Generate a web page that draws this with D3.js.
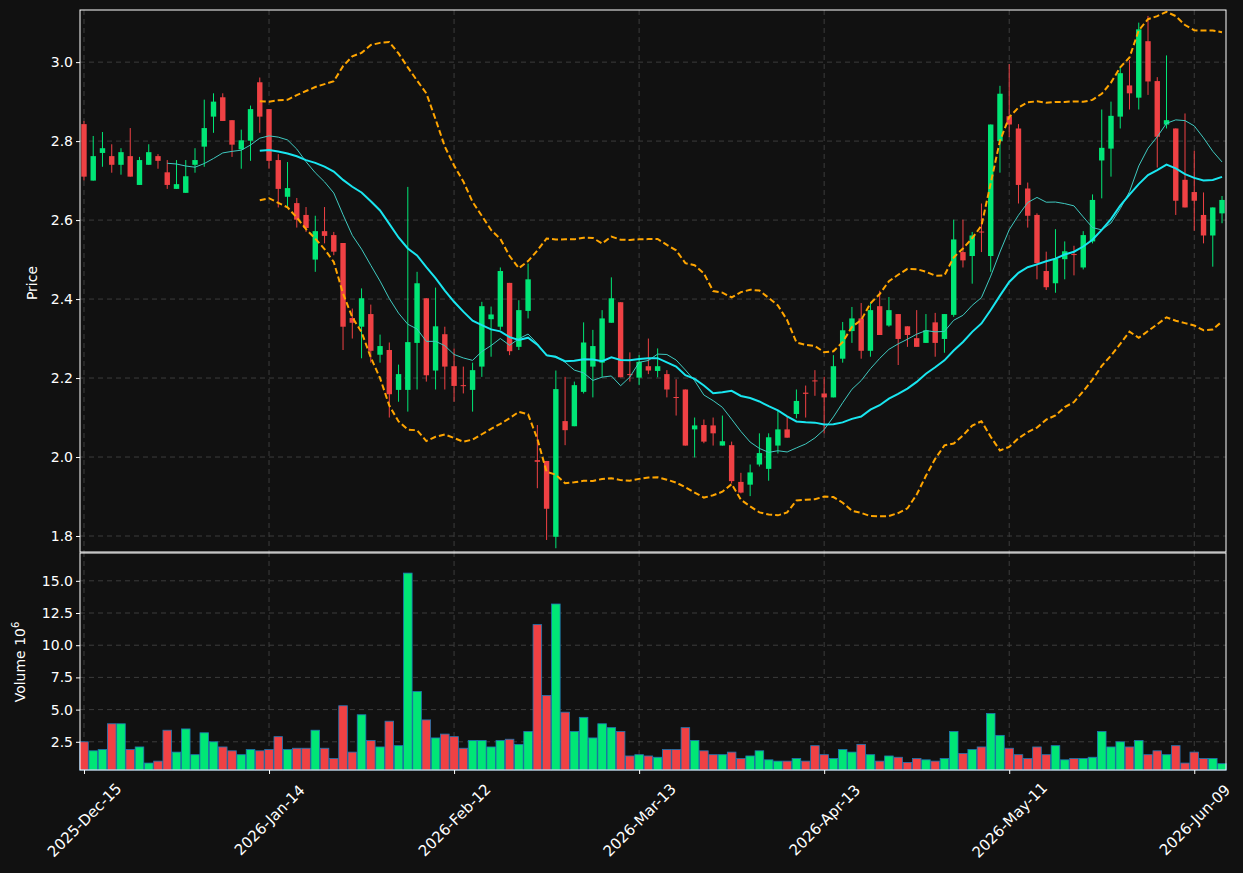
<!DOCTYPE html>
<html><head><meta charset="utf-8">
<script src="https://cdn.jsdelivr.net/npm/d3@7"></script>
<style>body{margin:0;background:#111111;}svg{display:block;font-family:"DejaVu Sans",sans-serif;}</style>
</head><body><svg id="c" width="1243" height="873"></svg>
<script>
const opens=[2.843,2.700,2.770,2.762,2.740,2.762,2.689,2.740,2.762,2.721,2.679,2.669,2.740,2.786,2.862,2.911,2.853,2.779,2.801,2.949,
2.881,2.752,2.659,2.643,2.613,2.500,2.572,2.562,2.542,2.352,2.330,2.362,2.259,2.271,2.170,2.170,2.289,2.402,2.219,2.311,
2.230,2.182,2.170,2.229,2.349,2.330,2.441,2.279,2.370,1.992,1.990,1.798,2.091,2.078,2.165,2.229,2.239,2.340,2.392,2.210,
2.201,2.230,2.218,2.210,2.152,2.171,2.070,2.081,2.080,2.029,2.030,1.937,1.930,1.981,1.970,2.029,2.070,2.109,2.163,2.194,
2.161,2.151,2.249,2.319,2.351,2.269,2.382,2.333,2.362,2.331,2.301,2.289,2.341,2.299,2.360,2.519,2.509,2.571,2.509,2.800,
2.863,2.832,2.680,2.613,2.471,2.440,2.501,2.514,2.480,2.546,2.751,2.781,2.862,2.941,2.910,3.053,2.952,2.842,2.832,2.702,
2.671,2.613,2.561,2.617];
const highs=[2.851,2.813,2.823,2.792,2.782,2.833,2.760,2.792,2.767,2.752,2.752,2.752,2.782,2.905,2.921,2.921,2.853,2.829,2.890,2.961,
2.881,2.767,2.747,2.656,2.633,2.611,2.633,2.570,2.542,2.376,2.427,2.386,2.310,2.290,2.234,2.684,2.469,2.402,2.429,2.330,
2.275,2.229,2.239,2.393,2.381,2.480,2.441,2.397,2.490,2.081,1.990,2.219,2.203,2.191,2.341,2.322,2.372,2.455,2.392,2.265,
2.258,2.300,2.275,2.220,2.197,2.171,2.100,2.095,2.100,2.105,2.039,1.960,1.981,2.060,2.060,2.119,2.102,2.171,2.181,2.220,
2.203,2.258,2.342,2.380,2.390,2.390,2.421,2.405,2.362,2.331,2.372,2.362,2.365,2.362,2.601,2.601,2.570,2.642,2.842,2.940,
2.995,2.843,2.695,2.617,2.520,2.577,2.546,2.535,2.572,2.665,2.880,2.900,2.989,3.005,3.100,3.117,2.962,3.017,2.832,2.870,
2.776,2.670,2.632,2.661];
const lows=[2.700,2.700,2.735,2.720,2.715,2.710,2.689,2.740,2.730,2.679,2.679,2.669,2.720,2.735,2.821,2.851,2.760,2.730,2.750,2.821,
2.730,2.632,2.634,2.581,2.570,2.469,2.541,2.511,2.271,2.300,2.250,2.239,2.239,2.100,2.140,2.115,2.171,2.191,2.171,2.171,
2.140,2.161,2.115,2.203,2.254,2.322,2.258,2.271,2.351,1.921,1.790,1.769,2.030,2.078,2.161,2.151,2.203,2.340,2.202,2.191,
2.182,2.210,2.202,2.151,2.105,2.029,1.999,2.035,2.029,2.029,1.933,1.908,1.901,1.976,1.940,2.009,2.049,2.098,2.100,2.155,
2.060,2.151,2.239,2.289,2.249,2.254,2.309,2.330,2.233,2.279,2.279,2.289,2.254,2.264,2.355,2.480,2.439,2.519,2.469,2.720,
2.810,2.642,2.581,2.450,2.423,2.416,2.450,2.460,2.475,2.541,2.655,2.710,2.832,2.880,2.880,2.917,2.733,2.832,2.613,2.632,
2.573,2.541,2.482,2.592];
const closes=[2.710,2.762,2.782,2.740,2.772,2.710,2.752,2.772,2.750,2.689,2.691,2.711,2.752,2.833,2.900,2.851,2.791,2.802,2.881,2.862,
2.750,2.679,2.681,2.601,2.580,2.572,2.560,2.520,2.330,2.340,2.402,2.269,2.281,2.159,2.210,2.291,2.440,2.207,2.331,2.229,
2.180,2.181,2.220,2.382,2.361,2.471,2.268,2.372,2.450,1.988,1.869,2.172,2.068,2.182,2.290,2.281,2.351,2.402,2.202,2.209,
2.241,2.219,2.230,2.171,2.150,2.029,2.080,2.039,2.060,2.040,1.939,1.910,1.961,2.010,2.050,2.070,2.049,2.142,2.160,2.192,
2.151,2.230,2.321,2.351,2.269,2.372,2.309,2.372,2.299,2.309,2.279,2.321,2.289,2.362,2.551,2.498,2.561,2.569,2.842,2.920,
2.842,2.689,2.611,2.491,2.430,2.502,2.521,2.512,2.562,2.651,2.783,2.864,2.972,2.921,3.083,2.951,2.811,2.853,2.649,2.632,
2.649,2.561,2.632,2.651];
const volumes=[2.5,1.8,1.9,3.9,3.9,1.9,2.1,0.85,1.0,3.4,1.7,3.5,1.5,3.2,2.5,2.1,1.8,1.5,1.9,1.8,
1.9,2.9,1.9,2.0,2.0,3.4,2.0,1.2,5.3,1.7,4.6,2.6,2.1,4.1,2.2,15.6,6.4,4.2,2.8,3.1,
2.9,2.0,2.6,2.6,2.1,2.6,2.7,2.3,3.3,11.6,6.1,13.2,4.8,3.3,4.4,2.8,3.9,3.6,3.3,1.4,
1.5,1.4,1.3,1.9,1.9,3.6,2.6,1.8,1.5,1.5,1.7,1.2,1.4,1.8,1.1,1.0,1.0,1.2,1.0,2.2,
1.5,1.2,1.9,1.7,2.3,1.5,1.0,1.4,1.3,0.9,1.2,1.1,1.0,1.2,3.3,1.6,1.9,2.1,4.7,3.0,
2.0,1.5,1.2,2.1,1.5,2.2,1.1,1.2,1.2,1.3,3.3,2.1,2.5,2.1,2.6,1.5,1.8,1.5,2.2,0.85,
1.7,1.2,1.2,0.8];
const holidays=["2025-12-25","2026-01-01","2026-01-19","2026-02-16","2026-04-03","2026-05-25"];
const priceTicks=[1.8,2.0,2.2,2.4,2.6,2.8,3.0];
const volTicks=[2.5,5.0,7.5,10.0,12.5,15.0];
const dateTickIdx=[0,20,40,60,80,100,120];

const dates=[];{let d=new Date(Date.UTC(2025,11,15));while(dates.length<closes.length){const s=d.toISOString().slice(0,10);const w=d.getUTCDay();if(w!==0&&w!==6&&!holidays.includes(s))dates.push(new Date(d));d.setUTCDate(d.getUTCDate()+1);}}
const mon=["Jan","Feb","Mar","Apr","May","Jun","Jul","Aug","Sep","Oct","Nov","Dec"];
const fmtDate=d=>d.getUTCFullYear()+"-"+mon[d.getUTCMonth()]+"-"+String(d.getUTCDate()).padStart(2,"0");

function sma(n){return closes.map((_,i)=>i<n-1?null:d3.mean(closes.slice(i-n+1,i+1)));}
const ma10=sma(10),ma20=sma(20);
const bbU=closes.map((_,i)=>i<19?null:ma20[i]+2*d3.deviation(closes.slice(i-19,i+1)));
const bbL=closes.map((_,i)=>i<19?null:ma20[i]-2*d3.deviation(closes.slice(i-19,i+1)));

const svg=d3.select("#c");
svg.append("rect").attr("width",1243).attr("height",873).attr("fill","#111111");
const L=80,R=1226,T=10,M=552,B=770;
const x=d3.scaleLinear().domain([-0.43,closes.length-1+0.43]).range([L,R]);
const y=d3.scaleLinear().domain([1.7595,3.132]).range([M,T]);
const yv=d3.scaleLinear().domain([0.31,17.16]).range([B,M+1]);
const UP="#00e676",DN="#ef4144",grid="#3c3c3c";

const g=svg.append("g");
priceTicks.forEach(t=>g.append("line").attr("x1",L).attr("x2",R).attr("y1",y(t)).attr("y2",y(t)).attr("stroke",grid).attr("stroke-dasharray","5,4"));
volTicks.forEach(t=>g.append("line").attr("x1",L).attr("x2",R).attr("y1",yv(t)).attr("y2",yv(t)).attr("stroke",grid).attr("stroke-dasharray","5,4"));
dateTickIdx.forEach(t=>{[[T,M],[M,B]].forEach(([a,b])=>g.append("line").attr("x1",x(t)).attr("x2",x(t)).attr("y1",a).attr("y2",b).attr("stroke",grid).attr("stroke-dasharray","5,4"));});

const cg=svg.append("g");
closes.forEach((c,i)=>{const o=opens[i],col=c>=o?UP:DN;
 cg.append("line").attr("x1",x(i)).attr("x2",x(i)).attr("y1",y(highs[i])).attr("y2",y(lows[i])).attr("stroke",col).attr("stroke-width",1);
 const top=y(Math.max(o,c)),bot=y(Math.min(o,c));
 cg.append("rect").attr("x",x(i)-2.7).attr("width",5.4).attr("y",top).attr("height",Math.max(1,bot-top)).attr("fill",col);
});
const ln=d3.line().defined(d=>d[1]!=null).x(d=>x(d[0])).y(d=>y(d[1]));
const pts=a=>a.map((v,i)=>[i,v]);
svg.append("path").attr("d",ln(pts(ma10))).attr("fill","none").attr("stroke","#3fc9c0").attr("stroke-width",1);
svg.append("path").attr("d",ln(pts(ma20))).attr("fill","none").attr("stroke","#19e6f0").attr("stroke-width",2);
[bbU,bbL].forEach(a=>svg.append("path").attr("d",ln(pts(a))).attr("fill","none").attr("stroke","#ffa500").attr("stroke-width",2).attr("stroke-dasharray","6,3"));

const vg=svg.append("g");
volumes.forEach((v,i)=>{const col=closes[i]>=opens[i]?UP:DN;
 vg.append("rect").attr("x",x(i)-4.3).attr("width",8.6).attr("y",yv(v)).attr("height",B-yv(v)).attr("fill",col).attr("stroke","#1f77b4").attr("stroke-width",0.8);
});

svg.append("rect").attr("x",L).attr("y",T).attr("width",R-L).attr("height",M-T).attr("fill","none").attr("stroke","#fff");
svg.append("rect").attr("x",L).attr("y",M+1).attr("width",R-L).attr("height",B-M-1).attr("fill","none").attr("stroke","#fff");

const ya=svg.append("g").attr("transform",`translate(${L},0)`).call(d3.axisLeft(y).tickValues(priceTicks).tickFormat(d3.format(".1f")).tickSize(4));
const yva=svg.append("g").attr("transform",`translate(${L},0)`).call(d3.axisLeft(yv).tickValues(volTicks).tickFormat(d3.format(".1f")).tickSize(4));
const xa=svg.append("g").attr("transform",`translate(0,${B})`).call(d3.axisBottom(x).tickValues(dateTickIdx).tickFormat(i=>fmtDate(dates[i])).tickSize(4));
[ya,yva,xa].forEach(a=>{a.select(".domain").remove();a.selectAll("line").attr("stroke","#fff");a.selectAll("text").attr("fill","#fff").attr("font-size",14).attr("font-family","DejaVu Sans");});
xa.selectAll("text").attr("font-size",15).attr("text-anchor","middle").attr("dx","0").attr("dy","0.35em").attr("y",0).attr("transform","translate(0,50) rotate(-45)");

svg.append("text").attr("transform","translate(37,283) rotate(-90)").attr("text-anchor","middle").attr("fill","#fff").attr("font-size",14).text("Price");
const vt=svg.append("text").attr("transform","translate(25,662) rotate(-90)").attr("text-anchor","middle").attr("fill","#fff").attr("font-size",14);
vt.append("tspan").text("Volume  10");
vt.append("tspan").attr("dy",-6).attr("font-size",10).text("6");
</script></body></html>
